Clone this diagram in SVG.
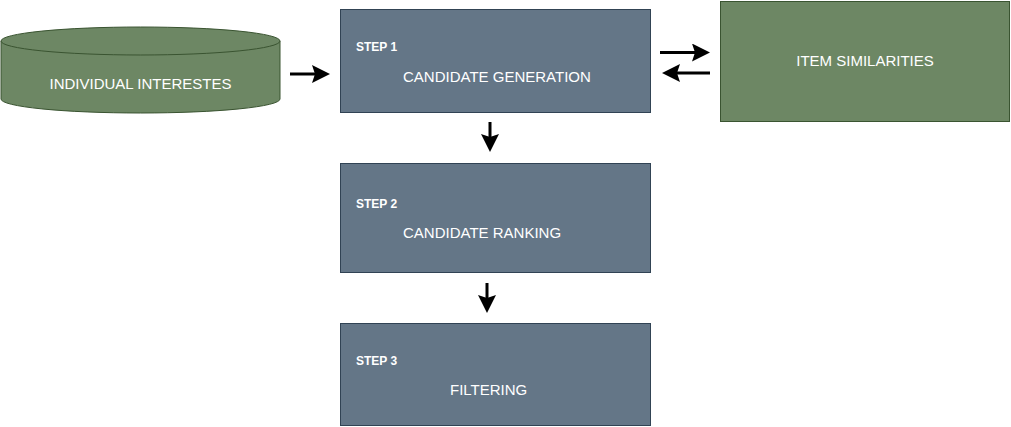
<svg xmlns="http://www.w3.org/2000/svg" width="1011" height="427" viewBox="0 0 1011 427">
<style>
.green{fill:#6d8764;stroke:#3a5431;stroke-width:1}
.slate{fill:#647687;stroke:#314354;stroke-width:1}
.lbl{font-family:"Liberation Sans",Arial,sans-serif;font-size:15px;fill:#ffffff}
.step{font-family:"Liberation Sans",Arial,sans-serif;font-size:12px;font-weight:bold;fill:#ffffff}
.conn{stroke:#000000;stroke-width:3;fill:none}
</style>
<defs>
<marker id="arr" markerUnits="userSpaceOnUse" markerWidth="20" markerHeight="20" refX="8" refY="9" orient="auto">
<path d="M0,0 L18,9 L0,18 L3,9 Z" fill="#000000"/>
</marker>
</defs>
<rect width="1011" height="427" fill="#ffffff"/>
<g id="individual-interests">
<path class="green" d="M1,41 A139.5,14 0 0 1 280,41 V99 A139.5,14 0 0 1 1,99 Z"/>
<path class="green" d="M1,41 A139.5,14 0 0 0 280,41" fill="none"/>
<text class="lbl" x="140.5" y="89" text-anchor="middle">INDIVIDUAL INTERESTES</text>
</g>
<g id="step1">
<rect class="slate" x="340.5" y="9.5" width="310" height="103"/>
<text class="step" x="356" y="51">STEP 1</text>
<text class="lbl" x="403" y="81.5">CANDIDATE GENERATION</text>
</g>
<g id="item-similarities">
<rect class="green" x="720.5" y="1.5" width="289" height="120"/>
<text class="lbl" x="865" y="66" text-anchor="middle">ITEM SIMILARITIES</text>
</g>
<g id="step2">
<rect class="slate" x="340.5" y="163.5" width="310" height="109"/>
<text class="step" x="356" y="208">STEP 2</text>
<text class="lbl" x="403" y="238">CANDIDATE RANKING</text>
</g>
<g id="step3">
<rect class="slate" x="340.5" y="323.5" width="310" height="102"/>
<text class="step" x="356" y="365">STEP 3</text>
<text class="lbl" x="450" y="395">FILTERING</text>
</g>
<g id="connectors">
<line class="conn" x1="290" y1="74" x2="320" y2="74" marker-end="url(#arr)"/>
<line class="conn" x1="660" y1="52.5" x2="700" y2="52.5" marker-end="url(#arr)"/>
<line class="conn" x1="710" y1="73" x2="672" y2="73" marker-end="url(#arr)"/>
<line class="conn" x1="490" y1="122" x2="490" y2="142" marker-end="url(#arr)"/>
<line class="conn" x1="487" y1="283" x2="487" y2="303" marker-end="url(#arr)"/>
</g>
</svg>
